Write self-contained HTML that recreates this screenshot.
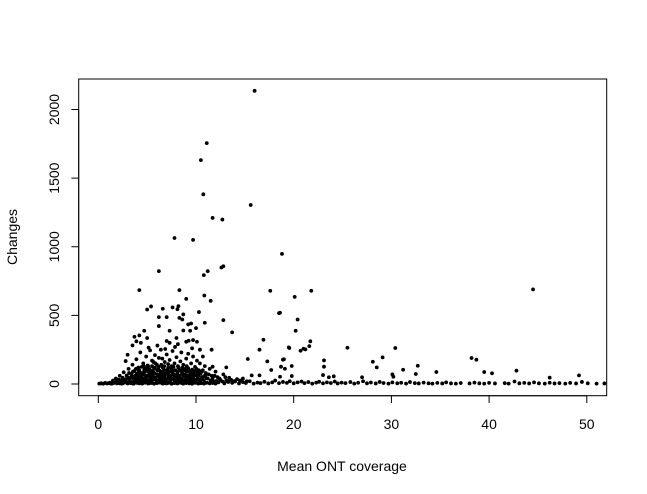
<!DOCTYPE html>
<html><head><meta charset="utf-8"><style>
html,body{margin:0;padding:0;background:#fff;}
svg{display:block;font-family:"Liberation Sans",Arial,sans-serif;}
</style></head><body>
<svg id="chart" width="647" height="494" viewBox="0 0 647 494">
<rect x="0" y="0" width="647" height="494" fill="#fff"/>
<rect x="78.7" y="79" width="528" height="316.7" fill="none" stroke="#000" stroke-width="1"/>
<g id="xaxis"></g>
<g id="yaxis"></g>
<g id="points"></g>
<text x="342" y="471" font-size="14" text-anchor="middle">Mean ONT coverage</text>
<text x="0" y="0" font-size="14" text-anchor="middle" transform="translate(17,237) rotate(-90)">Changes</text>
</svg>
<script>
const xTicks = [0, 10, 20, 30, 40, 50];
const yTicks = [0, 500, 1000, 1500, 2000];
const outlierPts = [[16.0,2136],[11.1,1755],[10.5,1631],[10.75,1382],[15.6,1304],[11.7,1210],[12.7,1198],[7.8,1064],[9.7,1050],[18.8,948],[6.2,822],[10.8,793],[11.2,822],[12.6,849],[12.8,858],
[4.2,684],[8.3,684],[17.6,679],[9.0,620],[10.85,645],[11.5,606],[5.0,543],[5.4,565],[6.6,548],[7.6,558],[8.2,567],[8.1,545],[18.5,516],[10.3,524],[6.2,487],[7.0,487],[8.7,507],[8.3,482],[8.6,470],[12.8,465],[6.2,422],[9.2,434],[9.5,441],[10.9,446],[4.7,388],[7.3,388],[8.7,390],[9.4,388],[10.0,407],[13.7,376],[3.7,344],[4.2,354],[5.0,335],[8.0,335],[9.0,308],[9.25,315],[9.7,320],[10.1,308],[3.9,311],[7.0,313],[7.3,300],[16.9,322],[3.5,281],[19.5,267],[11.6,250],[16.5,250],[3.0,213],[2.8,167],[15.3,182],[17.3,165],[19.0,180],[17.7,102],[11.7,126],[13.1,121],[15.7,63],[16.5,63],
[18.6,519],[20.1,635],[21.8,679],[20.4,470],[20.2,388],[19.55,262],[20.7,242],[21.0,257],[21.2,252],[21.6,276],[21.7,311],[25.5,264],[30.4,262],[44.5,689],[18.9,177],[18.7,126],[19.1,111],[19.8,131],[23.1,172],[23.1,126],[28.1,162],[28.5,121],[29.1,194],[31.2,104],[32.7,133],[32.5,73],[38.2,189],[38.7,177],[39.5,87],[40.3,78],[42.8,97],[46.2,46],[49.2,63],[34.6,87],[30.1,70],[30.2,53],[23.6,49],[24.1,56],[27.0,49],[23.0,65],[19.8,58],[18.6,53]];
const clusterPts = [[1.2,10],[1.5,25],[1.8,40],[2.0,15],[2.2,60],[2.4,30],[2.6,85],[2.8,20],[3.0,50],[3.1,110],[3.2,35],[3.4,70],[3.5,140],[3.6,15],[3.7,95],[3.8,45],[3.9,180],[4.0,25],[4.1,120],[4.2,60],[4.3,230],[4.4,80],[4.5,35],[4.6,150],[4.7,100],[4.8,20],[4.9,200],[5.0,55],[5.1,130],[5.2,90],[5.3,245],[5.4,40],[5.5,170],[5.6,75],[5.7,110],[5.8,210],[5.9,30],[6.0,140],[6.1,60],[6.2,190],[6.3,95],[6.4,250],[6.5,45],[6.6,120],[6.7,80],[6.8,160],[6.9,25],[7.0,215],[7.1,105],[7.2,55],[7.3,175],[7.4,35],[7.5,130],[7.6,240],[7.7,70],[7.8,150],[7.9,20],[8.0,195],[8.1,90],[8.2,120],[8.3,50],[8.4,165],[8.5,230],[8.6,75],[8.7,140],[8.8,30],[8.9,110],[9.0,185],[9.1,60],[9.2,220],[9.3,95],[9.4,40],[9.5,150],[9.6,80],[9.7,200],[9.8,25],[9.9,125],[10.0,65],[10.1,170],[10.2,45],[10.3,100],[10.4,150],[10.5,30],[10.6,90],[10.7,200],[10.8,55],[10.9,130],[11.0,80],[11.2,40],[11.4,110],[11.6,60],[11.8,20],[12.0,90],[12.2,50],[12.5,30],[12.8,70],[13.1,25],[13.4,45],[13.8,20],[14.2,35],
[2.5,5],[3.3,12],[4.05,8],[4.55,18],[5.05,10],[5.45,22],[5.95,14],[6.45,9],[6.95,17],[7.45,6],[7.95,12],[8.45,20],[8.95,9],[9.45,15],[3.75,28],[4.25,42],[4.75,65],[5.25,32],[5.75,48],[6.25,28],[6.75,52],[7.25,38],[7.75,44],[8.25,30],[8.75,58],[9.25,36],[9.75,48],[4.35,300],[6.05,280],[5.15,265],[7.85,270],[8.15,290],[6.85,255],[9.6,260],[10.4,250],
[3.45,55],[4.15,95],[4.65,130],[5.35,75],[5.65,160],[6.15,105],[6.55,185],[7.15,145],[7.65,95],[8.05,60],[8.55,105],[9.05,130],[9.55,70],[10.05,110],[4.95,115],[5.55,95],[6.35,70],[7.05,80],[3.95,75],[2.9,38]];
const densePts = [[1.6,8],[1.9,20],[2.1,32],[2.3,12],[2.5,45],[2.7,28],[2.9,62],[3.0,10],[3.15,80],[3.25,24],[3.35,48],[3.55,90],[3.65,36],[3.8,62],[3.85,110],[3.95,18],[4.0,50],[4.1,78],[4.2,100],[4.25,20],[4.4,55],[4.45,125],[4.5,70],[4.6,38],[4.7,88],[4.75,110],[4.85,40],[4.9,62],[5.0,95],[5.05,135],[5.1,24],[5.2,70],[5.25,108],[5.35,48],[5.4,88],[5.5,130],[5.55,30],[5.6,58],[5.7,82],[5.8,118],[5.85,150],[5.9,45],[6.0,72],[6.05,100],[6.1,20],[6.2,125],[6.25,60],[6.3,38],[6.4,88],[6.45,140],[6.55,62],[6.6,28],[6.7,105],[6.75,130],[6.8,48],[6.9,72],[7.0,100],[7.05,40],[7.15,118],[7.2,68],[7.3,90],[7.35,22],[7.4,60],[7.5,110],[7.55,42],[7.6,85],[7.7,125],[7.75,30],[7.85,65],[7.9,100],[8.0,45],[8.1,78],[8.15,130],[8.2,28],[8.3,98],[8.35,60],[8.5,40],[8.55,85],[8.6,118],[8.7,24],[8.8,70],[8.85,100],[9.0,50],[9.05,88],[9.15,30],[9.2,115],[9.35,62],[9.4,80],[9.5,22],[9.6,105],[9.65,45],[9.8,70],[9.9,95],[10.0,30],[10.15,85],[10.25,60],[10.35,20],[10.45,75],[10.6,48],[10.7,100],[10.8,28],[10.95,65],[11.1,42],[11.3,70],[11.5,25],[11.7,45],[11.9,60],[12.1,22],[12.4,40],[12.7,18],[13.0,50],[13.3,15],[13.6,30],[14.0,18],[14.5,25],[14.8,40],[15.2,20],[3.5,5],[4.3,12],[5.2,6],[6.1,10],[7.0,5],[7.8,8],[8.6,6],[9.4,10],[10.3,5],[11.0,8],[4.9,15],[6.8,14],[8.9,18],[2.2,5],[1.4,3]];
const basePts = [[0.1,3],[0.3,5],[0.5,2],[0.7,8],[0.9,4],[1.1,6],[1.3,3],[1.6,9],[1.9,5],[2.1,7],[2.4,3],[2.7,10],[3.0,4],[3.3,6],[3.6,2],[3.9,8],[4.2,5],[4.5,3],[4.8,9],[5.1,4],[5.4,7],[5.7,2],[6.0,6],[6.3,10],[6.6,3],[6.9,5],[7.2,8],[7.5,2],[7.8,6],[8.1,4],[8.4,9],[8.7,3],[9.0,7],[9.3,5],[9.6,2],[9.9,8],[10.2,4],[10.5,6],[10.8,3],[11.1,9],[11.4,5],[11.7,7],[12.0,3],
[12.3,12],[12.9,5],[13.3,18],[13.7,8],[14.0,22],[14.4,4],[14.8,14],[15.1,7],[15.5,20],[15.9,3],[16.3,10],[16.6,6],[17.0,16],[17.4,4],[17.8,12],[18.1,25],[18.5,6],[18.9,15],[19.3,8],[19.6,20],[20.0,5],[20.4,12],[20.8,18],[21.1,6],[21.5,14],[21.9,3],[22.3,10],[22.6,16],[23.0,5],[23.4,12],[23.8,7],[24.2,18],[24.5,4],[24.9,10],[25.3,6],[25.8,14],[26.2,3],[26.6,9],[27.1,20],[27.5,5],[27.9,11],[28.4,4],[28.8,15],[29.2,7],[29.7,3],[30.1,12],[30.6,5],[31.0,9],[31.5,3],[31.9,14],[32.4,6],[32.8,4],[33.3,10],[33.8,5],[34.2,3],[34.7,8],[35.2,4],[35.6,12],[36.1,5],[36.6,3],[37.1,7],[38.0,4],[38.5,10],[39.0,5],[39.5,3],[40.0,8],[40.6,4],[41.6,6],[42.0,3],[42.6,18],[43.1,5],[43.6,8],[44.1,4],[44.6,12],[45.1,5],[45.7,3],[46.2,9],[46.7,4],[47.2,6],[47.8,3],[48.3,8],[48.9,4],[49.5,15],[50.1,5],[51.0,3],[51.8,4]];

const NS = "http://www.w3.org/2000/svg";
function sx(v){ return 98.3 + v * 9.77; }
function sy(v){ return 384 - v * 0.13725; }

const xg = document.getElementById('xaxis');
const yg = document.getElementById('yaxis');
function mk(tag, attrs){ const e=document.createElementNS(NS,tag); for(const k in attrs) e.setAttribute(k,attrs[k]); return e; }

const xl = mk('line',{x1:sx(xTicks[0]),x2:sx(xTicks[xTicks.length-1]),y1:395.7,y2:395.7,stroke:'#000'});


xg.appendChild(xl);
xTicks.forEach(function(t){
  const l = mk('line',{x1:sx(t),x2:sx(t),y1:395.7,y2:403,stroke:'#000'});
  
  
  xg.appendChild(l);
  const tx = mk('text',{x:sx(t),y:429,'font-size':14,'text-anchor':'middle'});
  tx.textContent = t;
  
  
  xg.appendChild(tx);
});
const yl = mk('line',{x1:78.7,x2:78.7,y1:sy(yTicks[0]),y2:sy(yTicks[yTicks.length-1]),stroke:'#000'});


yg.appendChild(yl);
yTicks.forEach(function(t){
  const l = mk('line',{x1:71.4,x2:78.7,y1:sy(t),y2:sy(t),stroke:'#000'});
  
  
  yg.appendChild(l);
  const tx = mk('text',{x:0,y:0,'font-size':14,'text-anchor':'middle',transform:'translate(59,'+sy(t)+') rotate(-90)'});
  tx.textContent = t;
  
  
  yg.appendChild(tx);
});

const pg = document.getElementById('points');
[basePts, densePts, clusterPts, outlierPts].forEach(function(group){
  group.forEach(function(p){
    const c = mk('circle',{cx:sx(p[0]),cy:sy(p[1]),r:1.9,fill:'#000'});
    
    
    pg.appendChild(c);
  });
});
</script>
</body></html>
